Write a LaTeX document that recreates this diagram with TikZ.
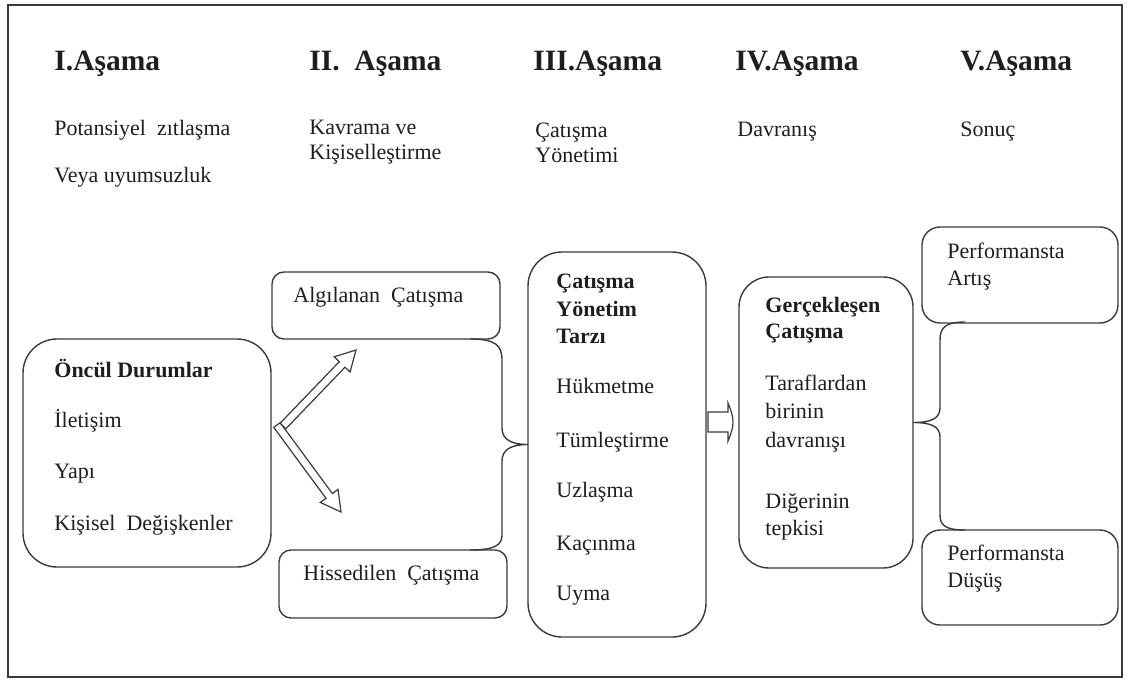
\documentclass[tikz,border=0pt]{standalone}
\usepackage{fontspec}
\setmainfont{Liberation Serif}
\usetikzlibrary{calc}
\definecolor{linegray}{HTML}{3A3A3A}
\definecolor{inkgray}{HTML}{1E1E1E}

\tikzset{
  box/.style={draw=linegray, line width=0.7pt, inner sep=0pt, outer sep=0pt},
  head/.style={anchor=base west, inner sep=0pt, text=inkgray,
    font=\fontsize{14.75}{17}\selectfont\bfseries},
  txt/.style={anchor=base west, inner sep=0pt, text=inkgray,
    font=\fontsize{11}{13}\selectfont},
  btxt/.style={txt, font=\fontsize{11}{13}\selectfont\bfseries},
  brace/.style={draw=linegray, line width=0.7pt},
  hollow/.style={draw=linegray, line width=0.6pt, fill=white, line join=miter}
}

% hollow block arrow from #1 to #2
\newcommand{\hollowarrow}[2]{%
  \draw[hollow] ($(#1)!2pt!90:(#2)$)
    -- ($($(#2)!10pt!(#1)$)!2pt!90:(#2)$)
    -- ($($(#2)!10pt!(#1)$)!5.5pt!90:(#2)$)
    -- (#2)
    -- ($($(#2)!10pt!(#1)$)!5.5pt!-90:(#2)$)
    -- ($($(#2)!10pt!(#1)$)!2pt!-90:(#2)$)
    -- ($(#1)!2pt!-90:(#2)$) -- cycle;}

\begin{document}
\begin{tikzpicture}[x=0.5pt,y=-0.5pt]

  \useasboundingbox (0,0) rectangle (1128,680);
  \draw[draw=linegray, line width=0.8pt] (8,5) rectangle (1122,677);

  % --- stage headings ---
  \foreach \x/\t [count=\i] in {54/I.Aşama, 309/II.\ \ Aşama, 533/III.Aşama,
      735/IV.Aşama, 960/V.Aşama}
    \node[head] (head\i) at (\x,70) {\t};

  \node[txt] (sub1a) at (54,135) {Potansiyel\ \ zıtlaşma};
  \node[txt] (sub1b) at (54,182) {Veya uyumsuzluk};
  \node[txt] (sub2a) at (309,134) {Kavrama ve};
  \node[txt] (sub2b) at (309,159) {Kişiselleştirme};
  \node[txt] (sub3a) at (535,137) {Çatışma};
  \node[txt] (sub3b) at (535,162) {Yönetimi};
  \node[txt] (sub4) at (737,136) {Davranış};
  \node[txt] (sub5) at (960,136) {Sonuç};

  % --- boxes ---
  \node[box, rounded corners=17pt, minimum width=124pt, minimum height=114pt]
    (oncul) at (147,453) {};
  \node[box, rounded corners=6pt, minimum width=114pt, minimum height=33.5pt]
    (alg) at (386,305.5) {};
  \node[box, rounded corners=6pt, minimum width=114pt, minimum height=34pt]
    (his) at (393,584) {};
  \node[box, rounded corners=17pt, minimum width=89pt, minimum height=192.5pt]
    (yon) at (617,444.5) {};
  \node[box, rounded corners=15pt, minimum width=87pt, minimum height=145.5pt]
    (ger) at (826,422.5) {};
  \node[box, rounded corners=9pt, minimum width=98pt, minimum height=48pt]
    (artis) at (1020,275) {};
  \node[box, rounded corners=9pt, minimum width=98pt, minimum height=47.5pt]
    (dusus) at (1020,577.5) {};

  % --- box texts ---
  \node[btxt] (o1) at (54,377) {Öncül Durumlar};
  \node[txt] (o2) at (54,427) {İletişim};
  \node[txt] (o3) at (54,478) {Yapı};
  \node[txt] (o4) at (54,530) {Kişisel\ \ Değişkenler};

  \node[txt] (a1) at (293,302) {Algılanan\ \ Çatışma};
  \node[txt] (h1) at (303,580) {Hissedilen\ \ Çatışma};

  \node[btxt] (y1) at (556,288) {Çatışma};
  \node[btxt] (y2) at (556,316) {Yönetim};
  \node[btxt] (y3) at (556,343) {Tarzı};
  \foreach \yy/\t [count=\i from 4] in {393/Hükmetme, 447/Tümleştirme,
      497/Uzlaşma, 550/Kaçınma, 600/Uyma}
    \node[txt] (y\i) at (556,\yy) {\t};

  \node[btxt] (g1) at (765,312) {Gerçekleşen};
  \node[btxt] (g2) at (765,338) {Çatışma};
  \node[txt] (g3) at (765,390) {Taraflardan};
  \node[txt] (g4) at (765,418) {birinin};
  \node[txt] (g5) at (765,447) {davranışı};
  \node[txt] (g6) at (765,508) {Diğerinin};
  \node[txt] (g7) at (765,535) {tepkisi};

  \node[txt] (p1) at (947,258) {Performansta};
  \node[txt] (p2) at (947,285) {Artış};
  \node[txt] (p3) at (947,560) {Performansta};
  \node[txt] (p4) at (947,587) {Düşüş};

  % --- arrows out of the first box ---
  \coordinate (upbase) at (283,426);
  \coordinate (uptip) at (356,350);
  \coordinate (lowbase) at (277,425);
  \coordinate (lowtip) at (341,512);
  \hollowarrow{lowbase}{lowtip}
  \hollowarrow{upbase}{uptip}

  % --- brace into conflict style box ---
  \draw[brace] ($(alg.south east)+(-30,0)$)
    .. controls (495,339) and (502,345) .. (502,360)
    -- (502,428) .. controls (502,440) and (512,444.5) .. (yon.west)
    .. controls (512,444.5) and (502,449) .. (502,461)
    -- (502,535) .. controls (502,545) and (495,550) .. ($(his.north east)+(-37,0)$);

  % --- small arrow to realised conflict ---
  \coordinate (sa) at (708,422);
  \draw[hollow] (sa) ++(0,-10) -- (728,412) -- (728,403)
    .. controls (731,410) and (733,416) .. (733,422)
    .. controls (733,428) and (731,434) .. (728,441)
    -- (728,432) -- (708,432) -- cycle;

  % --- brace out to results ---
  \draw[brace] ($(artis.south west)+(43,-1)$)
    .. controls (945,322) and (940,328) .. (940,340)
    -- (940,408) .. controls (940,419) and (930,422.5) .. (ger.east)
    .. controls (930,422.5) and (940,426) .. (940,437)
    -- (940,515) .. controls (940,525) and (945,530) .. ($(dusus.north west)+(43,0)$);

\end{tikzpicture}
\end{document}
